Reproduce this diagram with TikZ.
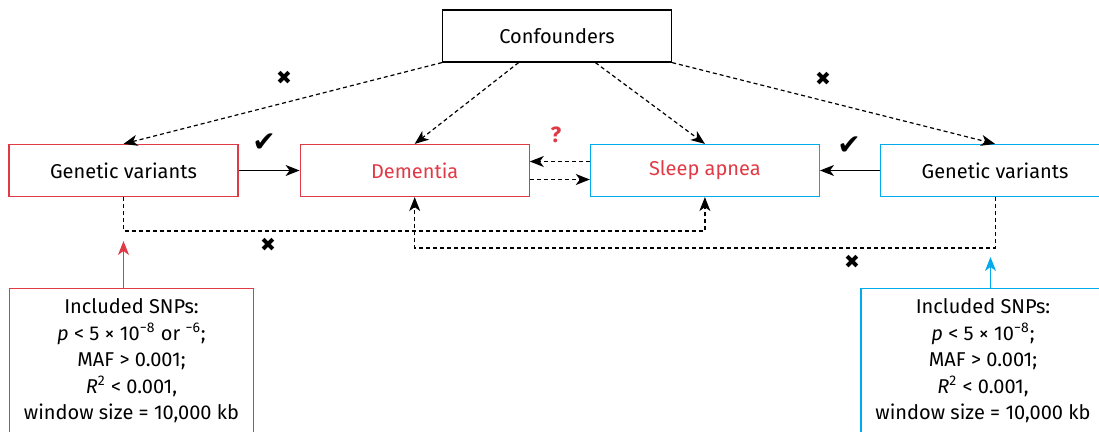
\documentclass[tikz,border=0pt]{standalone}
\usepackage{fontspec}
\setmainfont{Fira Sans}
\newfontfamily\symfont{DejaVu Sans}
\usetikzlibrary{arrows.meta}
\usetikzlibrary{calc}
\usetikzlibrary{positioning}
\definecolor{demred}{RGB}{224,58,70}
\definecolor{sablue}{RGB}{0,170,236}
\tikzset{
  >= {Stealth[length = 7pt, width = 5.5pt, inset = 2pt]}, node distance = 30pt,
  box/.style = {rectangle, draw, line width = 0.6pt, minimum width = 114.5pt,
    minimum height = 26pt, inner sep = 0pt, font = \fontsize{10}{12}\selectfont},
  redbox/.style = {box, draw = demred},
  bluebox/.style = {box, draw = sablue},
  snpbox/.style = {rectangle, draw, line width = 0.6pt, minimum width = 122pt,
    align = center, anchor = north, inner xsep = 2pt, inner ysep = 5pt,
    font = \fontsize{10}{13.25}\selectfont},
  link/.style = {->, line width = 0.6pt},
  dashlink/.style = {link, dash pattern = on 2pt off 1.5pt},
  cross/.style = {font = \symfont\fontsize{9.5}{10}\selectfont},
  tick/.style = {font = \symfont\fontsize{14}{14}\selectfont},
}

\begin{document}
\begin{tikzpicture}[x = 0.5pt, y = -0.5pt]
  \clip (0,0) rectangle (1099,432);
  % nodes
  \node [box] (conf) at (557,36) {Confounders};
  \node [redbox] (gvL) at (123.5,170.5) {Genetic variants};
  \node [redbox, text = demred, right = 30.5pt of gvL] (dem) {Dementia};
  \node [bluebox, text = demred, right = 30pt of dem] (sa) {Sleep apnea};
  \node [bluebox, right = 30pt of sa] (gvR) {Genetic variants};
  \node [snpbox, draw = demred] (snpL) at (131.5,288) {Included SNPs:\\
    \textit{p} < 5 × 10\textsuperscript{−8} or \textsuperscript{−6};\\
    MAF > 0.001;\\
    \textit{R}\textsuperscript{2} < 0.001,\\
    window size = 10,000 kb};
  \node [snpbox, draw = sablue] (snpR) at (983,288) {Included SNPs:\\
    \textit{p} < 5 × 10\textsuperscript{−8};\\
    MAF > 0.001;\\
    \textit{R}\textsuperscript{2} < 0.001,\\
    window size = 10,000 kb};
  \coordinate (tipL) at (123.5,241);
  \coordinate (tipR) at (990.5,257);
  % marks
  \node [cross] (noL) at (284,78) {✖};
  \node [cross] (noR) at (823,79) {✖};
  \node [cross] (noDL) at (268,245) {✖};
  \node [cross] (noDR) at (852,262) {✖};
  \node [tick] (okL) at (264,143) {✔};
  \node [tick] (okR) at (849,146) {✔};
  \node [text = demred, font = \bfseries\fontsize{11}{11}\selectfont] (ask) at (556,135) {?};
  % edges
  \draw [dashlink] (conf.south west) -- (gvL.north);
  \draw [dashlink] ($(conf.south west)!1/3!(conf.south east)$) -- (dem.north);
  \draw [dashlink] ($(conf.south west)!2/3!(conf.south east)$) -- (sa.north);
  \draw [dashlink] (conf.south east) -- (gvR.north);
  \draw [link] (gvL) -- (dem);
  \draw [link] (gvR) -- (sa);
  \draw [dashlink] ([yshift = 4.5pt]sa.west) -- ([yshift = 4.5pt]dem.east);
  \draw [dashlink] ([yshift = -4.5pt]dem.east) -- ([yshift = -4.5pt]sa.west);
  \draw [dashlink] (gvL.south) -- ++(0,34) -| (sa.south);
  \draw [dashlink] (gvR.south) -- ++(0,51) -| (dem.south);
  \draw [link, demred] (tipL |- snpL.north) -- (tipL);
  \draw [link, sablue] (tipR |- snpR.north) -- (tipR);
\end{tikzpicture}
\end{document}
